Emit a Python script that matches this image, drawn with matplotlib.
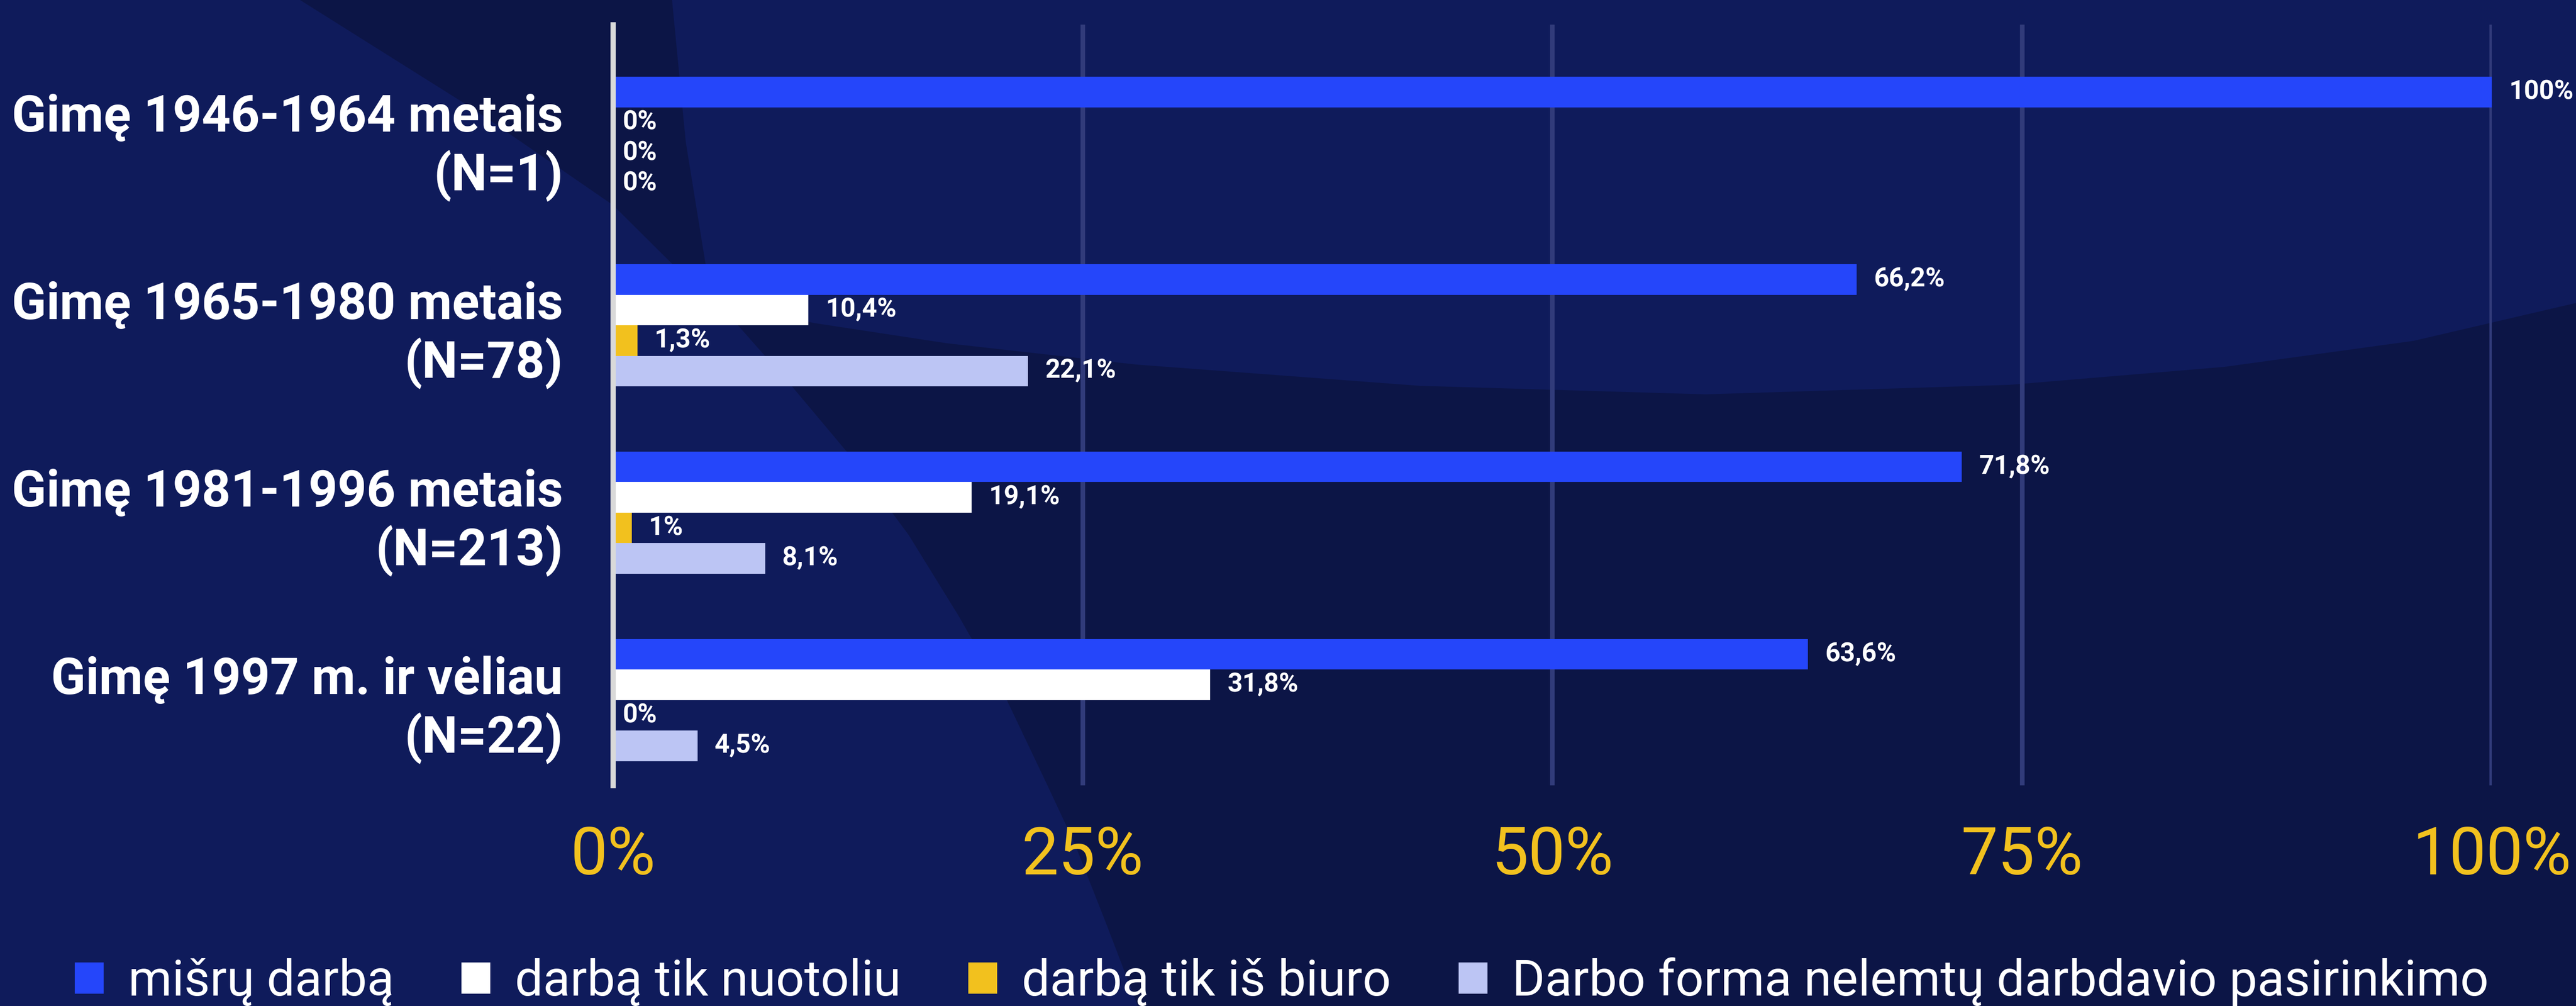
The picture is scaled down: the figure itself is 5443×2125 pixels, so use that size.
import matplotlib.pyplot as plt
from matplotlib.patches import Polygon, Patch
import numpy as np

plt.rcParams['font.family'] = ['Roboto', 'DejaVu Sans']

# data
groups = ['Gimę 1946-1964 metais\n(N=1)',
          'Gimę 1965-1980 metais\n(N=78)',
          'Gimę 1981-1996 metais\n(N=213)',
          'Gimę 1997 m. ir vėliau\n(N=22)']
series = ['mišrų darbą', 'darbą tik nuotoliu', 'darbą tik iš biuro',
          'Darbo forma nelemtų darbdavio pasirinkimo']
misru = [100, 66.2, 71.8, 63.6]
nuotoliu = [0, 10.4, 19.1, 31.8]
biuro = [0, 1.3, 1, 0]
nelemtu = [0, 22.1, 8.1, 4.5]
values = [misru, nuotoliu, biuro, nelemtu]
colors = ['#2546FA', '#FFFFFF', '#F2C11E', '#BCC5F4']
xticks = [0, 25, 50, 75, 100]

W, H = 5443, 2125
fig = plt.figure(figsize=(W / 100, H / 100), dpi=100)
fig.patch.set_facecolor('#0C1546')

# background shapes
bg = fig.add_axes([0, 0, 1, 1])
bg.set_xlim(0, W)
bg.set_ylim(H, 0)
bg.axis('off')
light = '#0F1B5B'
left_shape = [(0, 0), (634, 0), (1000, 230), (1295, 433), (1422, 559), (1560, 688),
              (1675, 818), (1790, 955), (1920, 1130), (2025, 1300), (2128, 1480),
              (2209, 1650), (2270, 1780), (2337, 1950), (2404, H), (0, H)]
top_shape = [(1420, 0), (1449, 300), (1491, 559), (1560, 645), (1718, 682),
             (2000, 725), (2400, 770), (3000, 815), (3604, 833), (4245, 813),
             (4700, 775), (5100, 720), (W, 640), (W, 0)]
bg.add_patch(Polygon(left_shape, closed=True, fc=light, ec='none'))
bg.add_patch(Polygon(top_shape, closed=True, fc=light, ec='none'))

x0, x1 = 1295, 5265
ytop, ybot = 52, 1659
ax = fig.add_axes([x0 / W, 1 - ybot / H, (x1 - x0) / W, (ybot - ytop) / H])
ax.set_facecolor('none')

bar_h = 0.163
ypos = np.arange(len(groups))
for i, (vals, col) in enumerate(zip(values, colors)):
    y = ypos + (i - 1.5) * bar_h
    ax.barh(y, vals, height=bar_h, color=col, zorder=3)
    for yy, v in zip(y, vals):
        txt = ('%g' % v).replace('.', ',') + '%'
        ax.annotate(txt, (v, yy), xytext=(26 if v > 0 else 15, 0),
                    textcoords='offset points', va='center', ha='left',
                    color='white', fontsize=40, fontweight='bold', zorder=4)

ax.set_xlim(0, 100)
ax.set_ylim(3.455, -0.604)
ax.set_xticks(xticks)
ax.set_xticklabels([f'{t}%' for t in xticks])
ax.set_yticks(ypos)
ax.set_yticklabels(groups, fontweight='bold', linespacing=1.2, ha='right')
ax.tick_params(axis='x', length=0, pad=60, labelsize=100, labelcolor='#F2C11E')
ax.tick_params(axis='y', length=0, pad=76, labelsize=77, labelcolor='white')
ax.grid(axis='x', color='#313B7A', lw=7, zorder=1)
for s in ['top', 'right', 'bottom']:
    ax.spines[s].set_visible(False)
ax.spines['left'].set_color('#D9D9D9')
ax.spines['left'].set_linewidth(8)
ax.spines['left'].set_zorder(5)

handles = [Patch(facecolor=c, edgecolor='none') for c in colors]
fig.legend(handles, series, loc='center', bbox_to_anchor=(0.4975, 1 - 2074 / H),
           ncol=4, frameon=False, fontsize=76, labelcolor='white',
           handlelength=0.58, handleheight=0.58, handletextpad=0.49,
           columnspacing=1.35)

plt.savefig('out.png', dpi=100, facecolor=fig.get_facecolor())
